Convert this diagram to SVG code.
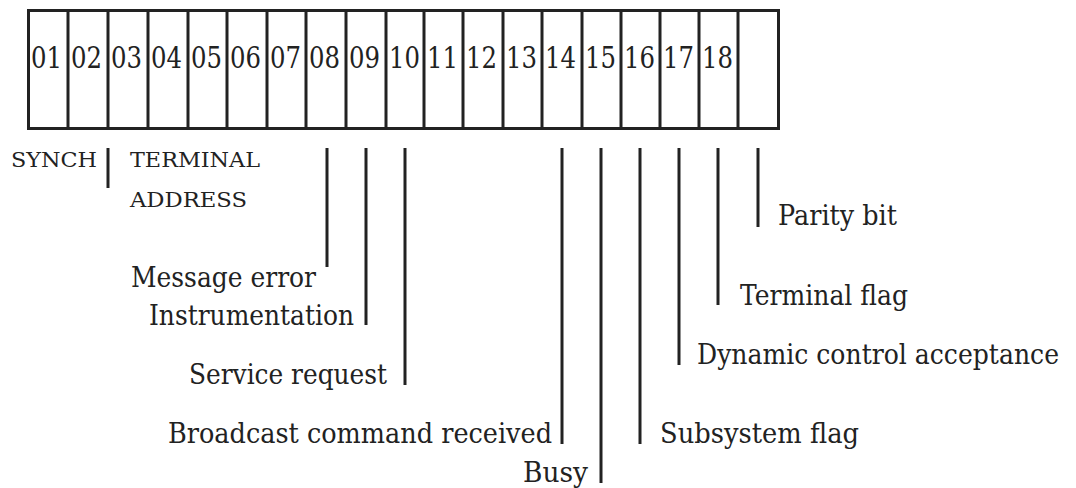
<svg xmlns="http://www.w3.org/2000/svg" width="1076" height="488" viewBox="0 0 1076 488">
<style>
.cell{fill:#fff;stroke:#222;stroke-width:3}
.ln{stroke:#222;stroke-width:3;fill:none}
text{fill:#222}
</style>
<rect width="1076" height="488" fill="#fff"/>
<g id="register" font-family="DejaVu Serif, serif" font-size="29">
<rect class="cell" x="28.5" y="10.5" width="750" height="118"/>
<path class="ln" d="M68 10v118M108 10v118M148 10v118M188 10v118M227 10v118M267 10v118M306 10v118M346 10v118M386 10v118M424 10v118M463 10v118M503 10v118M542 10v118M582 10v118M621 10v118M660 10v118M699 10v118M738 10v118"/>
<text x="31" y="68" textLength="31" lengthAdjust="spacingAndGlyphs">01</text>
<text x="71" y="68" textLength="31" lengthAdjust="spacingAndGlyphs">02</text>
<text x="111" y="68" textLength="31" lengthAdjust="spacingAndGlyphs">03</text>
<text x="151" y="68" textLength="31" lengthAdjust="spacingAndGlyphs">04</text>
<text x="191" y="68" textLength="31" lengthAdjust="spacingAndGlyphs">05</text>
<text x="230" y="68" textLength="31" lengthAdjust="spacingAndGlyphs">06</text>
<text x="270" y="68" textLength="31" lengthAdjust="spacingAndGlyphs">07</text>
<text x="309" y="68" textLength="31" lengthAdjust="spacingAndGlyphs">08</text>
<text x="349" y="68" textLength="31" lengthAdjust="spacingAndGlyphs">09</text>
<text x="389" y="68" textLength="31" lengthAdjust="spacingAndGlyphs">10</text>
<text x="427" y="68" textLength="31" lengthAdjust="spacingAndGlyphs">11</text>
<text x="466" y="68" textLength="31" lengthAdjust="spacingAndGlyphs">12</text>
<text x="506" y="68" textLength="31" lengthAdjust="spacingAndGlyphs">13</text>
<text x="545" y="68" textLength="31" lengthAdjust="spacingAndGlyphs">14</text>
<text x="585" y="68" textLength="31" lengthAdjust="spacingAndGlyphs">15</text>
<text x="624" y="68" textLength="31" lengthAdjust="spacingAndGlyphs">16</text>
<text x="663" y="68" textLength="31" lengthAdjust="spacingAndGlyphs">17</text>
<text x="702" y="68" textLength="31" lengthAdjust="spacingAndGlyphs">18</text>
</g>
<g id="connectors">
<path class="ln" d="M108 148v40M327 148v119M366 148v177M405 148v237M562 148v296M601 148v335M640 148v296M679 148v217M718 148v157M758 148v79"/>
</g>
<g font-family="DejaVu Serif, serif" font-size="20">
<g id="synch"><text x="11" y="167" textLength="86" lengthAdjust="spacingAndGlyphs">SYNCH</text></g>
<g id="terminal-address">
<text x="130" y="167" textLength="130" lengthAdjust="spacingAndGlyphs">TERMINAL</text>
<text x="130" y="207" textLength="117" lengthAdjust="spacingAndGlyphs">ADDRESS</text>
</g>
</g>
<g font-family="DejaVu Serif, serif" font-size="28">
<g id="message-error"><text x="131" y="287" textLength="185" lengthAdjust="spacingAndGlyphs">Message error</text></g>
<g id="instrumentation"><text x="149" y="325" textLength="205" lengthAdjust="spacingAndGlyphs">Instrumentation</text></g>
<g id="service-request"><text x="189" y="384" textLength="198" lengthAdjust="spacingAndGlyphs">Service request</text></g>
<g id="broadcast"><text x="168" y="443" textLength="384" lengthAdjust="spacingAndGlyphs">Broadcast command received</text></g>
<g id="busy"><text x="523" y="482" textLength="65" lengthAdjust="spacingAndGlyphs">Busy</text></g>
<g id="subsystem-flag"><text x="660" y="443" textLength="199" lengthAdjust="spacingAndGlyphs">Subsystem flag</text></g>
<g id="dynamic-control"><text x="697" y="364" textLength="362" lengthAdjust="spacingAndGlyphs">Dynamic control acceptance</text></g>
<g id="terminal-flag"><text x="740" y="305" textLength="168" lengthAdjust="spacingAndGlyphs">Terminal flag</text></g>
<g id="parity-bit"><text x="778" y="225" textLength="119" lengthAdjust="spacingAndGlyphs">Parity bit</text></g>
</g>
</svg>
